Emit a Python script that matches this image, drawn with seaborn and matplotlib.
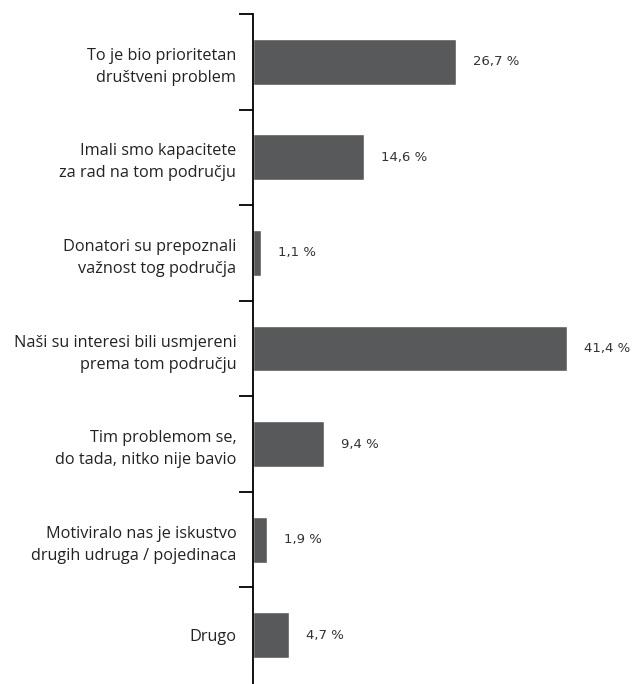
import matplotlib
matplotlib.use('Agg')
import matplotlib.pyplot as plt
import seaborn as sns
import pandas as pd

categories = [
    'To je bio prioritetan\ndruštveni problem',
    'Imali smo kapacitete\nza rad na tom području',
    'Donatori su prepoznali\nvažnost tog područja',
    'Naši su interesi bili usmjereni\nprema tom području',
    'Tim problemom se,\ndo tada, nitko nije bavio',
    'Motiviralo nas je iskustvo\ndrugih udruga / pojedinaca',
    'Drugo',
]
values = [26.7, 14.6, 1.1, 41.4, 9.4, 1.9, 4.7]

df = pd.DataFrame({'cat': categories, 'val': values})

sns.set_style('white')
plt.rcParams['font.family'] = ['Open Sans', 'DejaVu Sans']

fig = plt.figure(figsize=(6.37, 6.84), dpi=100)
ax = fig.add_axes([253 / 637, 0, 1 - 253 / 637, 1 - 14 / 684])

sns.barplot(data=df, x='val', y='cat', color='#58595b', saturation=1,
            width=0.48, ax=ax)

ax.set_xlim(0, 50.6)
ax.set_ylim(6.51, -0.5)

# value labels
for i, v in enumerate(values):
    ax.annotate(f'{v:.1f} %'.replace('.', ','), xy=(v, i), xytext=(17, 0),
                textcoords='offset pixels', va='center', ha='left',
                fontsize=9.5, color='#333333', family='DejaVu Sans')

# category labels at centers, tick marks at boundaries
ax.set_yticks(range(len(categories)))
ax.set_yticklabels(categories, fontsize=11.7, color='#222222', linespacing=1.5)
ax.tick_params(axis='y', which='major', length=0, pad=12)
ax.set_yticks([i - 0.5 for i in range(len(categories))], minor=True)
ax.tick_params(axis='y', which='minor', length=10, width=1.3, color='black', left=True)

ax.set_xticks([])
ax.set_xlabel('')
ax.set_ylabel('')
for s in ['top', 'right', 'bottom']:
    ax.spines[s].set_visible(False)
ax.spines['left'].set_color('black')
ax.spines['left'].set_linewidth(1.3)

fig.savefig('out.png', dpi=100)
